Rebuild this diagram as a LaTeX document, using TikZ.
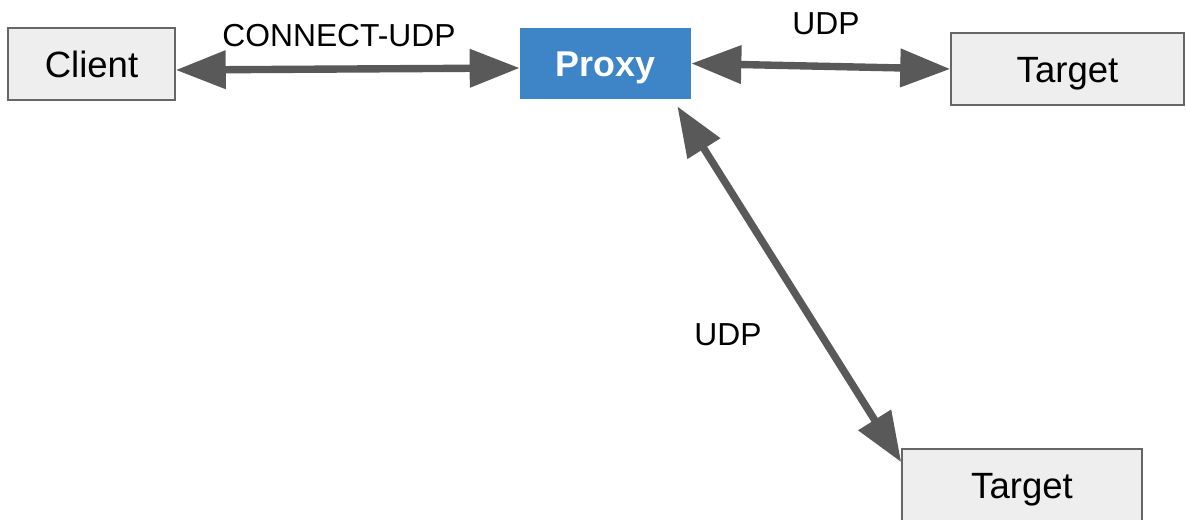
\documentclass[tikz,border=0pt]{standalone}
\usepackage{fontspec}
\setmainfont{Liberation Sans}
\usetikzlibrary{arrows.meta}
\definecolor{boxfill}{HTML}{EEEEEE}
\definecolor{boxline}{HTML}{666666}
\definecolor{proxyblue}{HTML}{3D85C6}
\definecolor{arrowgray}{HTML}{595959}
\tikzset{
  box/.style={rectangle, draw=boxline, fill=boxfill, line width=0.9pt, inner sep=0pt,
    minimum height=1.44cm, text height=14.9pt, text depth=0pt,
    font=\fontsize{20.8pt}{24pt}\selectfont},
  proxybox/.style={rectangle, fill=proxyblue, text=white, inner sep=0pt,
    minimum width=3.42cm, minimum height=1.42cm, text height=14.9pt, text depth=0pt,
    font=\fontsize{20.4pt}{24pt}\selectfont\bfseries},
  label/.style={anchor=base, inner sep=0pt, font=\fontsize{18.1pt}{21pt}\selectfont},
  link/.style={draw=arrowgray, line width=4.2pt,
    {Triangle[length=1cm,width=0.74cm]}-{Triangle[length=1cm,width=0.74cm]}}
}
\begin{document}
\begin{tikzpicture}[x=0.02cm, y=-0.02cm]
\useasboundingbox (0,0) rectangle (1186,520);
\draw (91.5,64) node(client) [box, minimum width=3.34cm] {Client};
\draw (605.5,63.5) node(proxy) [proxybox] {Proxy};
\draw (1067.5,69) node(target) [box, minimum width=4.66cm] {Target};
\draw (1022,485) node(target2) [box, minimum width=4.80cm] {Target};
\draw (339,47) node(connectlabel) [label] {CONNECT-UDP};
\draw (826,35) node(udplabel) [label] {UDP};
\draw (728,345) node(udplabel2) [label] {UDP};
\draw[link] ([yshift=-0.12cm]client.east) -- ([yshift=-0.09cm]proxy.west);
\draw[link] (proxy.east) -- (target.west);
\draw[link] ([shift={(-0.28cm,-0.14cm)}]proxy.south east) -- ([yshift=-0.28cm]target2.north west);
\end{tikzpicture}
\end{document}
